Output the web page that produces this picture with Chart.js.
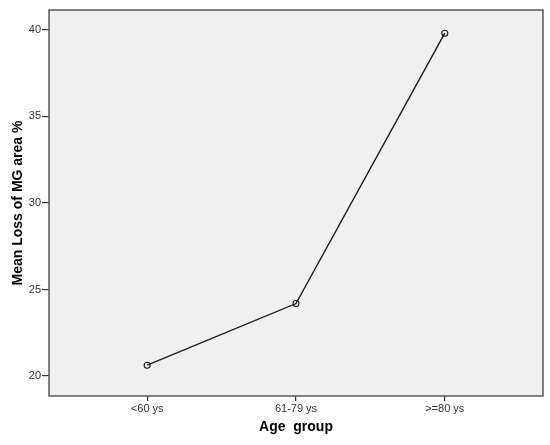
<!DOCTYPE html>
<html>
<head>
<meta charset="utf-8">
<script src="https://cdn.jsdelivr.net/npm/chart.js@4"></script>
<style>
  html, body { margin: 0; padding: 0; background: #fff; }
  #wrap { width: 550px; height: 445px; }
</style>
</head>
<body>
<div id="wrap"><canvas id="chart" width="550" height="445"></canvas></div>
<script>
// Werte
var ageGroups = ['<60 ys', '61-79 ys', '>=80 ys'];
var meanLoss = [20.63, 24.19, 39.81];
var yTicks = [20, 25, 30, 35, 40];

var points = ageGroups.map(function(label, i) {
    return {x: i, y: meanLoss[i]};
});

// Hintergrund und Rahmen der Plotflaeche (SPSS-Stil)
var plotFrame = {
    id: 'plotFrame',
    beforeDraw: function(chart) {
        var a = chart.chartArea, ctx = chart.ctx;
        ctx.save();
        ctx.fillStyle = '#f0f0f0';
        ctx.fillRect(a.left, a.top, a.right - a.left, a.bottom - a.top);
        ctx.restore();
    },
    afterDatasetsDraw: function(chart) {
        var a = chart.chartArea, ctx = chart.ctx;
        ctx.save();
        ctx.strokeStyle = '#5a5a5a';
        ctx.lineWidth = 1.5;
        ctx.strokeRect(a.left, a.top, a.right - a.left, a.bottom - a.top);
        ctx.restore();
    }
};

new Chart(document.getElementById('chart'), {
    type: 'line',
    data: {
        datasets: [{
            data: points,
            borderColor: '#1a1a1a',
            borderWidth: 1.4,
            pointRadius: 3,
            pointBorderWidth: 1.1,
            pointBorderColor: '#1a1a1a',
            pointBackgroundColor: 'rgba(0,0,0,0)',
            tension: 0,
            fill: false
        }]
    },
    options: {
        responsive: false,
        animation: false,
        layout: {padding: {top: 10, right: 7, bottom: 9, left: 0}},
        plugins: {legend: {display: false}, tooltip: {enabled: false}},
        scales: {
            x: {
                type: 'linear',
                min: -0.66,
                max: 2.66,
                afterBuildTicks: function(scale) {
                    scale.ticks = ageGroups.map(function(g, i) { return {value: i}; });
                },
                afterFit: function(scale) { scale.height = 40; },
                grid: {drawOnChartArea: false, drawTicks: true, tickLength: 5, color: '#333', lineWidth: 1.2},
                border: {display: false},
                ticks: {
                    padding: 1,
                    maxRotation: 0,
                    color: '#333',
                    font: {family: 'Arial, "Liberation Sans"', size: 11},
                    callback: function(v) { return ageGroups[v]; }
                },
                title: {
                    display: true,
                    text: 'Age  group',
                    color: '#000',
                    font: {family: 'Arial, "Liberation Sans"', size: 14, weight: 'bold'},
                    padding: {top: 0, bottom: 0}
                }
            },
            y: {
                min: 18.85,
                max: 41.15,
                afterBuildTicks: function(scale) {
                    scale.ticks = yTicks.map(function(v) { return {value: v}; });
                },
                afterFit: function(scale) { scale.width = 49; },
                grid: {drawOnChartArea: false, drawTicks: true, tickLength: 7, color: '#333', lineWidth: 1.2},
                border: {display: false},
                ticks: {
                    padding: 1,
                    color: '#333',
                    font: {family: 'Arial, "Liberation Sans"', size: 11}
                },
                title: {
                    display: true,
                    text: 'Mean Loss of MG area %',
                    color: '#000',
                    font: {family: 'Arial, "Liberation Sans"', size: 14, weight: 'bold'},
                    padding: {top: 10, bottom: 0}
                }
            }
        }
    },
    plugins: [plotFrame]
});
</script>
</body>
</html>
